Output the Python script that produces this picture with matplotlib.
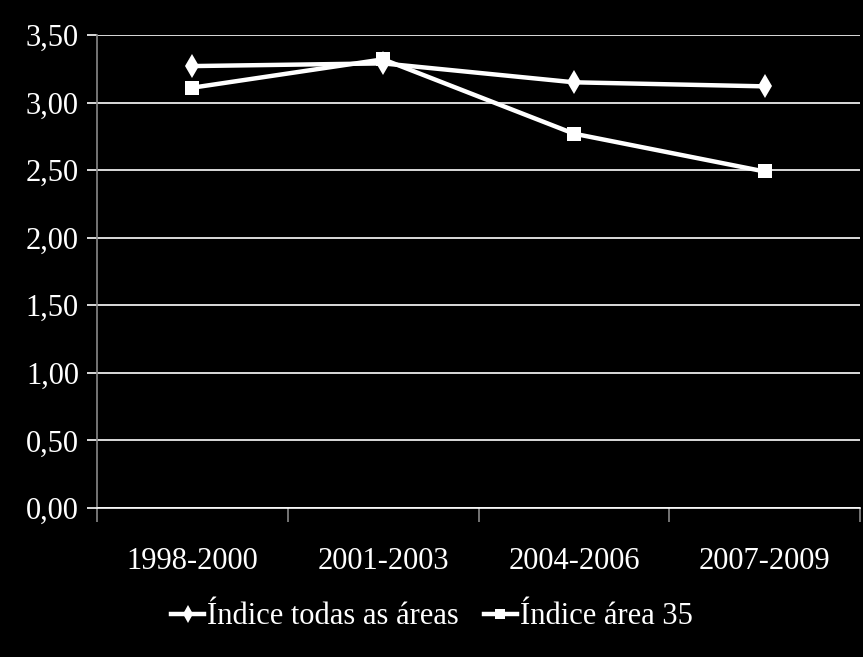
import numpy as np
import matplotlib.pyplot as plt
from matplotlib.ticker import FixedLocator, FuncFormatter

# data
periods = ['1998-2000', '2001-2003', '2004-2006', '2007-2009']
idx_all = [3.27, 3.29, 3.15, 3.12]
idx_35 = [3.11, 3.32, 2.77, 2.49]
label_all = 'Índice todas as áreas'
label_35 = 'Índice área 35'

plt.rcParams['font.family'] = ['Liberation Serif', 'DejaVu Serif']

fig = plt.figure(figsize=(8.63, 6.57), dpi=100, facecolor='black')
ax = fig.add_axes([97 / 863, 1 - 508 / 657, (860 - 97) / 863, (508 - 35) / 657])
ax.set_facecolor('black')

x = np.arange(len(periods))
ax.plot(x, idx_all, color='white', lw=3.2, marker='d', ms=12, mew=0,
        label=label_all, zorder=3)
ax.plot(x, idx_35, color='white', lw=3.2, marker='s', ms=10.5, mew=0,
        label=label_35, zorder=3)

ax.set_xlim(-0.5, len(periods) - 0.5)
ax.set_ylim(0, 3.5)
yt = np.arange(0, 3.51, 0.5)
ax.set_yticks(yt)
ax.yaxis.set_major_formatter(FuncFormatter(lambda v, p: ('%.2f' % v).replace('.', ',')))
ax.grid(axis='y', color='white', lw=1.2)
ax.set_axisbelow(True)

# category ticks sit between groups, labels centred
ax.xaxis.set_major_locator(FixedLocator(np.arange(-0.5, len(periods), 1.0)))
ax.xaxis.set_major_formatter(FuncFormatter(lambda v, p: ''))
ax.xaxis.set_minor_locator(FixedLocator(x))
ax.set_xticklabels(periods, minor=True)
ax.tick_params(axis='x', which='major', length=10, color='#888888', width=1.2)
ax.tick_params(axis='x', which='minor', length=0, pad=28, labelsize=22, labelcolor='white')
ax.tick_params(axis='y', length=7, color='white', width=1.2, labelsize=22,
               labelcolor='white', pad=6)

for s in ['top', 'right']:
    ax.spines[s].set_visible(False)
ax.spines['left'].set_color('#888888')
ax.spines['left'].set_linewidth(1.2)
ax.spines['bottom'].set_color('white')
ax.spines['bottom'].set_linewidth(1.2)

leg = fig.legend(loc='center', bbox_to_anchor=(432 / 863, 1 - 617 / 657), ncol=2,
                 frameon=False, fontsize=22, labelcolor='white', handlelength=1.1,
                 handletextpad=0.1, columnspacing=0.8, markerscale=0.75)

fig.savefig('out.png', dpi=100, facecolor='black')
